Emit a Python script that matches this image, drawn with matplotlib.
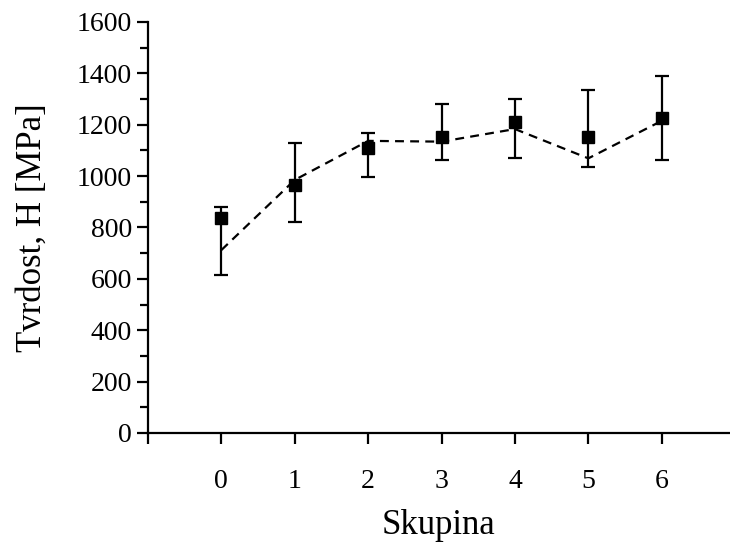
import matplotlib.pyplot as plt
import numpy as np

plt.rcParams['font.family'] = ['Liberation Serif', 'DejaVu Serif']

skupina = [0, 1, 2, 3, 4, 5, 6]
tvrdost = [838, 965, 1108, 1151, 1212, 1151, 1225]
err_top = [878, 1128, 1169, 1279, 1301, 1336, 1388]
err_bottom = [614, 823, 995, 1063, 1069, 1035, 1061]
trend = [712, 985, 1137, 1134, 1183, 1069, 1215]

x = np.array(skupina)
y = np.array(tvrdost)
yerr = [y - np.array(err_bottom), np.array(err_top) - y]

fig = plt.figure(figsize=(7.3, 5.48), dpi=100)
ax = fig.add_axes([0.2027, 0.2099, 0.7973, 0.7501])

ax.plot(x, trend, color='black', linestyle=(0, (4, 2.8)), linewidth=1.6, zorder=2)
ax.errorbar(x, y, yerr=yerr, fmt='s', color='black', markersize=9,
            elinewidth=1.6, capsize=5, capthick=1.6, zorder=3)

ax.set_xlim(-1, 6.93)
ax.set_ylim(0, 1600)
ax.set_xticks([-1] + skupina)
ax.set_xticklabels([''] + [str(s) for s in skupina])
ax.set_yticks(np.arange(0, 1601, 200))
ax.set_yticks(np.arange(100, 1600, 200), minor=True)

for side in ['top', 'right']:
    ax.spines[side].set_visible(False)
for side in ['left', 'bottom']:
    ax.spines[side].set_linewidth(1.6)

ax.tick_params(axis='both', which='major', direction='out', length=8, width=1.6, labelsize=20)
ax.tick_params(axis='y', which='minor', direction='out', length=6, width=1.6)
ax.tick_params(axis='x', which='major', pad=18)

ax.set_xlabel('Skupina', fontsize=25, labelpad=11)
ax.set_ylabel('Tvrdost, H [MPa]', fontsize=25, labelpad=20)

fig.savefig('out.png', dpi=100)
